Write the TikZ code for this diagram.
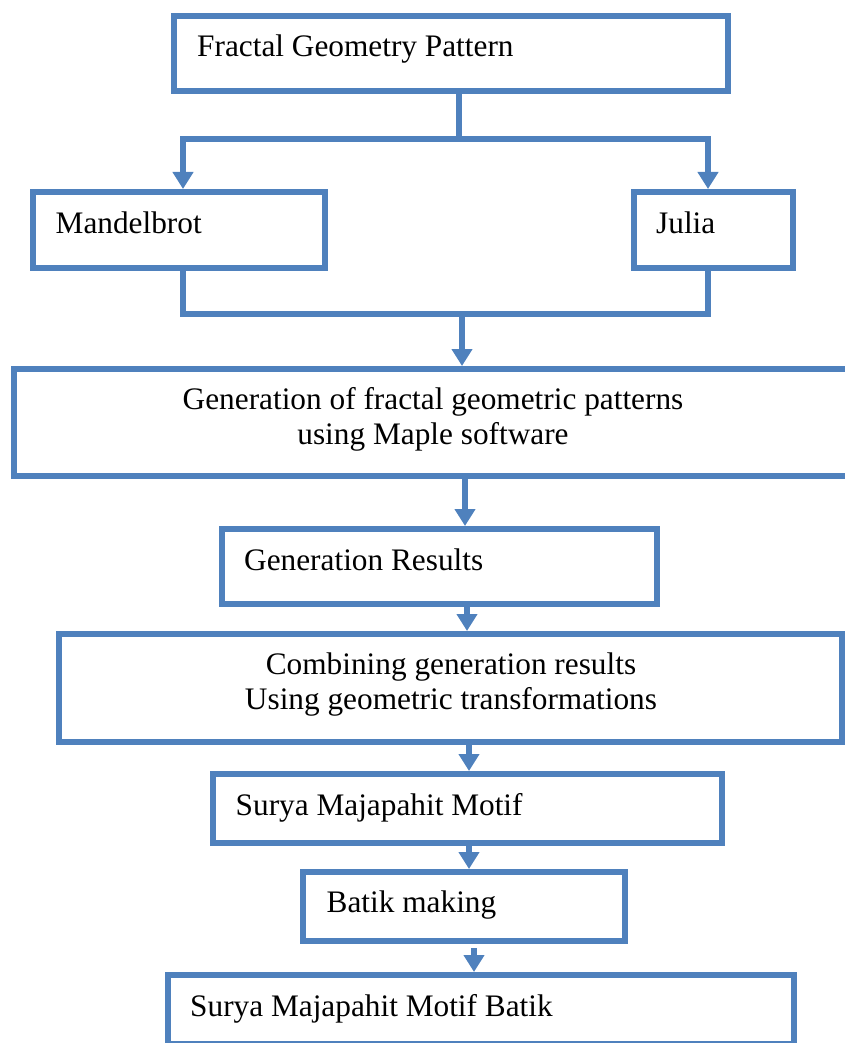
\documentclass[tikz,border=0pt]{standalone}
\usepackage{fontspec}
\setmainfont{Liberation Serif}
\usetikzlibrary{arrows.meta}
\definecolor{bblue}{HTML}{4F81BD}
\tikzset{
  box/.style={draw=bblue, line width=6pt, inner sep=0pt, fill=white},
  txt/.style={inner sep=0pt, font=\fontsize{31.3}{35}\selectfont, text=black},
  conn/.style={draw=bblue, line width=6pt, line join=miter},
  tip/.tip={Triangle[width=20pt,length=17pt]},
  arr/.style={conn, -tip},
}
\begin{document}
\begin{tikzpicture}[x=1pt,y=-1pt]
\clip (0,0) rectangle (845,1043);
% boxes
\node[box, minimum width=554pt, minimum height=75pt] (b1) at (450.5,53.5) {};
\node[box, minimum width=292pt, minimum height=76pt] (b2) at (179,230) {};
\node[box, minimum width=159pt, minimum height=76pt] (b3) at (713.5,230) {};
\node[box, minimum width=856pt, minimum height=107pt] (b4) at (442,422.5) {};
\node[box, minimum width=435pt, minimum height=75pt] (b5) at (439.5,566.5) {};
\node[box, minimum width=783pt, minimum height=108pt] (b6) at (450.5,688) {};
\node[box, minimum width=509pt, minimum height=69pt] (b7) at (467.5,808.5) {};
\node[box, minimum width=322pt, minimum height=69pt] (b8) at (464,906.5) {};
\node[box, minimum width=626pt, minimum height=69pt] (b9) at (481,1009.5) {};
% texts
\node[txt, anchor=base west] (t1) at (197,56.5) {Fractal Geometry Pattern};
\node[txt, anchor=base west] (t2) at (55.5,233) {Mandelbrot};
\node[txt, anchor=base west] (t3) at (656,233) {Julia};
\node[txt, anchor=base, align=center] (t4) at (433,444) {Generation of fractal geometric patterns\\using Maple software};
\node[txt, anchor=base west] (t5) at (244,570.5) {Generation Results};
\node[txt, anchor=base, align=center] (t6) at (451,709.5) {Combining generation results\\Using geometric transformations};
\node[txt, anchor=base west] (t7) at (235.5,815) {Surya Majapahit Motif};
\node[txt, anchor=base west] (t8) at (326.5,912.5) {Batik making};
\node[txt, anchor=base west] (t9) at (190,1016) {Surya Majapahit Motif Batik};
% junction coordinates
\coordinate (j1) at (459,142);
\coordinate (jl) at (183,139);
\coordinate (jr) at (708,139);
\coordinate (ml) at (183,314);
\coordinate (mr) at (708,314);
\coordinate (m2) at (462,311);
\coordinate (a4) at (465,0);
\coordinate (a5) at (467,0);
\coordinate (a6) at (469,0);
\coordinate (a8) at (474,948);
% connectors
\draw[conn] (b1.south -| j1) -- (j1);
\draw[conn, tip-tip] (jl |- b2.north) -- (jl) -- (jr) -- (jr |- b3.north);
\draw[conn] (ml |- b2.south) -- (ml) -- (mr) -- (mr |- b3.south);
\draw[arr] (m2) -- (m2 |- b4.north);
\draw[arr] (a4 |- b4.south) -- (a4 |- b5.north);
\draw[arr] (a5 |- b5.south) -- (a5 |- b6.north);
\draw[arr] (a6 |- b6.south) -- (a6 |- b7.north);
\draw[arr] (a6 |- b7.south) -- (a6 |- b8.north);
\draw[arr] (a8) -- (a8 |- b9.north);
\end{tikzpicture}
\end{document}
